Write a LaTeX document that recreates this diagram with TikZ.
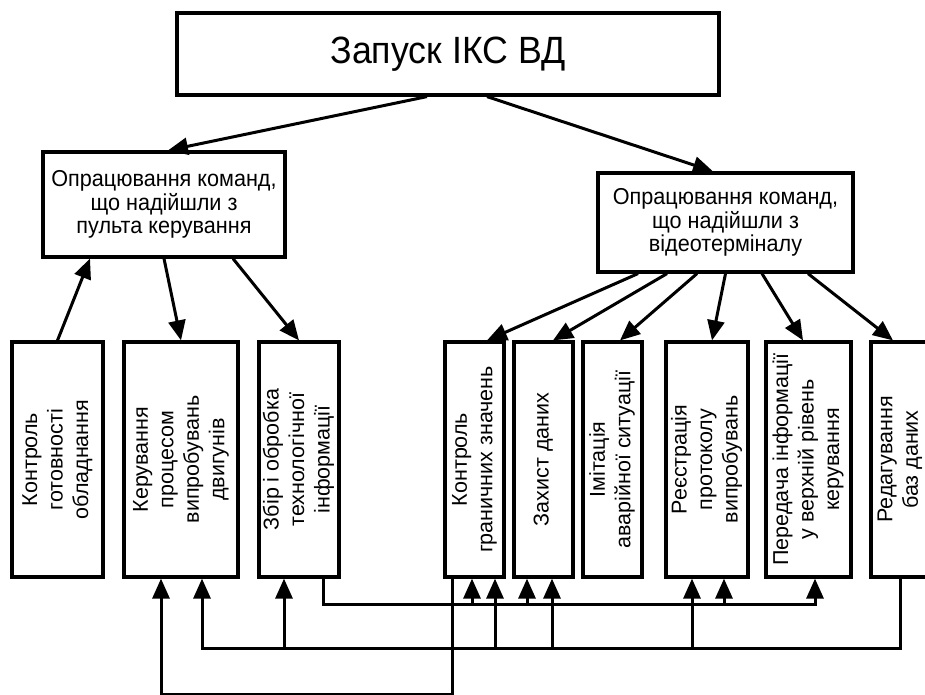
\documentclass[tikz,border=0pt]{standalone}
\usepackage{fontspec}
\usepackage{graphicx}
\setmainfont{Liberation Sans}
\newfontfamily\horfont{Liberation Sans}[FakeStretch=0.94]
\usetikzlibrary{arrows.meta}

\newcommand{\vlabel}[1]{\rotatebox{90}{\fontsize{21.5}{25.5}\selectfont\begin{tabular}{@{}c@{}}#1\end{tabular}}}

\begin{document}
\begin{tikzpicture}[x=1pt, y=-1pt,
	box/.style = {draw, line width=3.2pt, inner sep=0pt, align=center},
	task/.style = {box, minimum height=235},
	arr/.style = {line width=3pt, -{Triangle[length=20pt,width=17pt]}}]

	\useasboundingbox (0,0) rectangle (925,695);
	\clip (0,0) rectangle (925,695);

	\node [box, minimum width=542, minimum height=82, font=\horfont\fontsize{38}{40}\selectfont] (launch) at (448,54) {Запуск ІКС ВД};

	\node [box, minimum width=242, minimum height=105, font=\horfont\fontsize{23}{23.5}\selectfont] (panel) at (164,204.5) {Опрацювання команд,\\що надійшли з\\пульта керування};
	\node [box, minimum width=255, minimum height=99, font=\horfont\fontsize{23}{23.5}\selectfont] (terminal) at (725.5,222.5) {Опрацювання команд,\\що надійшли з\\відеотерміналу};

	\node [task, minimum width=91] (readiness) at (57.5,459.5) {\vlabel{Контроль\\готовності\\обладнання}};
	\node [task, minimum width=114] (testctrl) at (181,459.5) {\vlabel{Керування\\процесом\\випробувань\\двигунів}};
	\node [task, minimum width=80] (techinfo) at (299,459.5) {\vlabel{Збір і обробка\\технологічної\\інформації}};

	\node [task, minimum width=59] (limits) at (474.5,459.5) {\vlabel{Контроль\\граничних значень}};
	\node [task, minimum width=59] (protect) at (543.5,459.5) {\vlabel{Захист даних}};
	\node [task, minimum width=59] (emergency) at (612.5,459.5) {\vlabel{Імітація\\аварійної ситуації}};
	\node [task, minimum width=82] (protocol) at (707,459.5) {\vlabel{Реєстрація\\протоколу\\випробувань}};
	\node [task, minimum width=85] (upper) at (808.5,459.5) {\vlabel{Передача інформації\\у верхній рівень\\керування}};
	\node [task, minimum width=58] (database) at (900,459.5) {\vlabel{Редагування\\баз даних}};

	\draw [arr] ([xshift=-21]launch.south) -- ([xshift=4]panel.north);
	\draw [arr] ([xshift=39]launch.south) -- ([xshift=-12.5]terminal.north);

	\draw [arr] (readiness.north) -- ([xshift=-74]panel.south);
	\draw [arr] (panel.south) -- (testctrl.north);
	\draw [arr] ([xshift=69]panel.south) -- (techinfo.north);

	\draw [arr] ([xshift=-87.5]terminal.south) -- ([xshift=12.5]limits.north);
	\draw [arr] ([xshift=-58.5]terminal.south) -- ([xshift=9.5]protect.north);
	\draw [arr] ([xshift=-28.5]terminal.south) -- ([xshift=7.5]emergency.north);
	\draw [arr] (terminal.south) -- ([xshift=5]protocol.north);
	\draw [arr] ([xshift=36.5]terminal.south) -- ([xshift=-5.5]upper.north);
	\draw [arr] ([xshift=82.5]terminal.south) -- ([xshift=-7]database.north);

	% upper bus
	\draw [arr] ([xshift=24]techinfo.south) -- ++(0,26) -| ([xshift=6.5]upper.south);
	\draw [arr] ([xshift=-2.5,yshift=-26]limits.south) -- ([xshift=-2.5]limits.south);
	\draw [arr] ([xshift=-16.5,yshift=-26]protect.south) -- ([xshift=-16.5]protect.south);
	\draw [arr] ([xshift=17,yshift=-26]protocol.south) -- ([xshift=17]protocol.south);

	% middle bus
	\draw [arr] (database.south) -- ++(0,70) -| ([xshift=21]testctrl.south);
	\draw [arr] ([xshift=-15,yshift=-70]techinfo.south) -- ([xshift=-15]techinfo.south);
	\draw [arr] ([xshift=20.5,yshift=-70]limits.south) -- ([xshift=20.5]limits.south);
	\draw [arr] ([xshift=8.5,yshift=-70]protect.south) -- ([xshift=8.5]protect.south);
	\draw [arr] ([xshift=-15,yshift=-70]protocol.south) -- ([xshift=-15]protocol.south);

	% lower bus
	\draw [arr] ([xshift=-22.5]limits.south) -- ++(0,116) -| ([xshift=-20]testctrl.south);

\end{tikzpicture}
\end{document}
